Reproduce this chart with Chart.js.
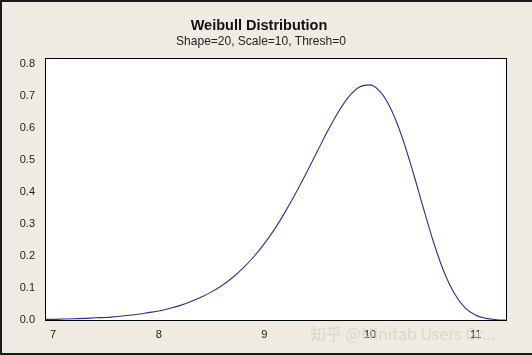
<!DOCTYPE html>
<html>
<head>
<meta charset="utf-8">
<script src="https://cdn.jsdelivr.net/npm/chart.js@4"></script>
<style>
html,body{margin:0;padding:0;background:#efebe2;}
#wrap{width:532px;height:355px;position:relative;}
</style>
</head>
<body>
<div id="wrap"><canvas id="c" width="532" height="355"></canvas></div>
<script>
const chartTitle = "Weibull Distribution";
const chartSubtitle = "Shape=20, Scale=10, Thresh=0";
const watermark = "知乎 @Minitab Users Gr...";
const xValues = [6.9,7.0,7.1,7.2,7.3,7.4,7.5,7.6,7.7,7.8,7.9,8.0,8.1,8.2,8.3,8.4,8.5,8.6,8.7,8.8,8.9,9.0,9.1,9.2,9.3,9.4,9.5,9.6,9.7,9.8,9.9,10.0,10.1,10.2,10.3,10.4,10.5,10.6,10.7,10.8,10.9,11.0,11.1,11.2,11.3];
const density = [0.002,0.002,0.003,0.004,0.005,0.007,0.008,0.011,0.014,0.018,0.023,0.028,0.036,0.045,0.057,0.071,0.088,0.108,0.133,0.163,0.198,0.239,0.286,0.340,0.399,0.462,0.527,0.592,0.651,0.699,0.729,0.736,0.713,0.659,0.576,0.471,0.356,0.245,0.151,0.082,0.038,0.015,0.005,0.001,0.000];
const xTicks = [7,8,9,10,11];
const yTicks = [0.0,0.1,0.2,0.3,0.4,0.5,0.6,0.7,0.8];

const points = xValues.map((x,i)=>({x:x,y:density[i]}));

const decor = {
  id:'decor',
  beforeDraw(chart){
    const {ctx, chartArea:a} = chart;
    ctx.save();
    ctx.fillStyle='#efebe2';
    ctx.fillRect(0,0,chart.width,chart.height);
    ctx.fillStyle='#ffffff';
    ctx.fillRect(a.left,a.top,a.right-a.left,a.bottom-a.top);
    ctx.restore();
  },
  afterDraw(chart){
    const {ctx, chartArea:a} = chart;
    ctx.save();
    ctx.strokeStyle='#000000';
    ctx.lineWidth=1;
    ctx.strokeRect(Math.round(a.left)+0.5,Math.round(a.top)+0.5,Math.round(a.right-a.left),Math.round(a.bottom-a.top));
    // titles
    ctx.fillStyle='#111111';
    ctx.textAlign='center';
    ctx.textBaseline='alphabetic';
    ctx.font='bold 14.5px "Liberation Sans", Arial, sans-serif';
    ctx.fillText(chartTitle,259,30);
    ctx.fillStyle='#222222';
    ctx.font='12px "Liberation Sans", Arial, sans-serif';
    ctx.fillText(chartSubtitle,261,45);
    // watermark
    ctx.fillStyle='rgba(205,205,205,0.7)';
    ctx.textAlign='left';
    ctx.font='16px "Noto Sans CJK SC", "Liberation Sans", sans-serif';
    ctx.fillText(watermark,310,340);
    // outer frame
    ctx.fillStyle='#1a1a1a';
    ctx.fillRect(0,0,chart.width,2);
    ctx.fillRect(0,0,2,chart.height);
    ctx.fillRect(0,chart.height-2,chart.width,2);
    ctx.restore();
  }
};

new Chart(document.getElementById('c'),{
  type:'line',
  data:{datasets:[{data:points,borderColor:'#2e2e9c',borderWidth:1.1,pointRadius:0,fill:false,tension:0.4,cubicInterpolationMode:'monotone'}]},
  options:{
    responsive:false,
    animation:false,
    events:[],
    layout:{padding:{top:58,right:26,bottom:0,left:0}},
    plugins:{legend:{display:false},tooltip:{enabled:false},title:{display:false}},
    scales:{
      x:{type:'linear',min:6.924,max:11.287,
        afterBuildTicks(s){s.ticks=xTicks.map(v=>({value:v}));},
        afterFit(s){s.height=35;},
        grid:{display:false,drawOnChartArea:false,drawTicks:true,tickLength:5,tickColor:'#000'},
        border:{display:true,color:'#000',width:1},
        ticks:{color:'#222',font:{family:'"Liberation Sans", Arial, sans-serif',size:11},padding:3,maxRotation:0,callback:v=>String(v)}
      },
      y:{type:'linear',min:0,max:0.82,
        afterBuildTicks(s){s.ticks=yTicks.map(v=>({value:v}));},
        afterFit(s){s.width=45;},
        grid:{display:false,drawOnChartArea:false,drawTicks:true,tickLength:5,tickColor:'#000'},
        border:{display:true,color:'#000',width:1},
        ticks:{color:'#222',font:{family:'"Liberation Sans", Arial, sans-serif',size:11},padding:5,callback:v=>Number(v).toFixed(1)}
      }
    }
  },
  plugins:[decor]
});
</script>
</body>
</html>
